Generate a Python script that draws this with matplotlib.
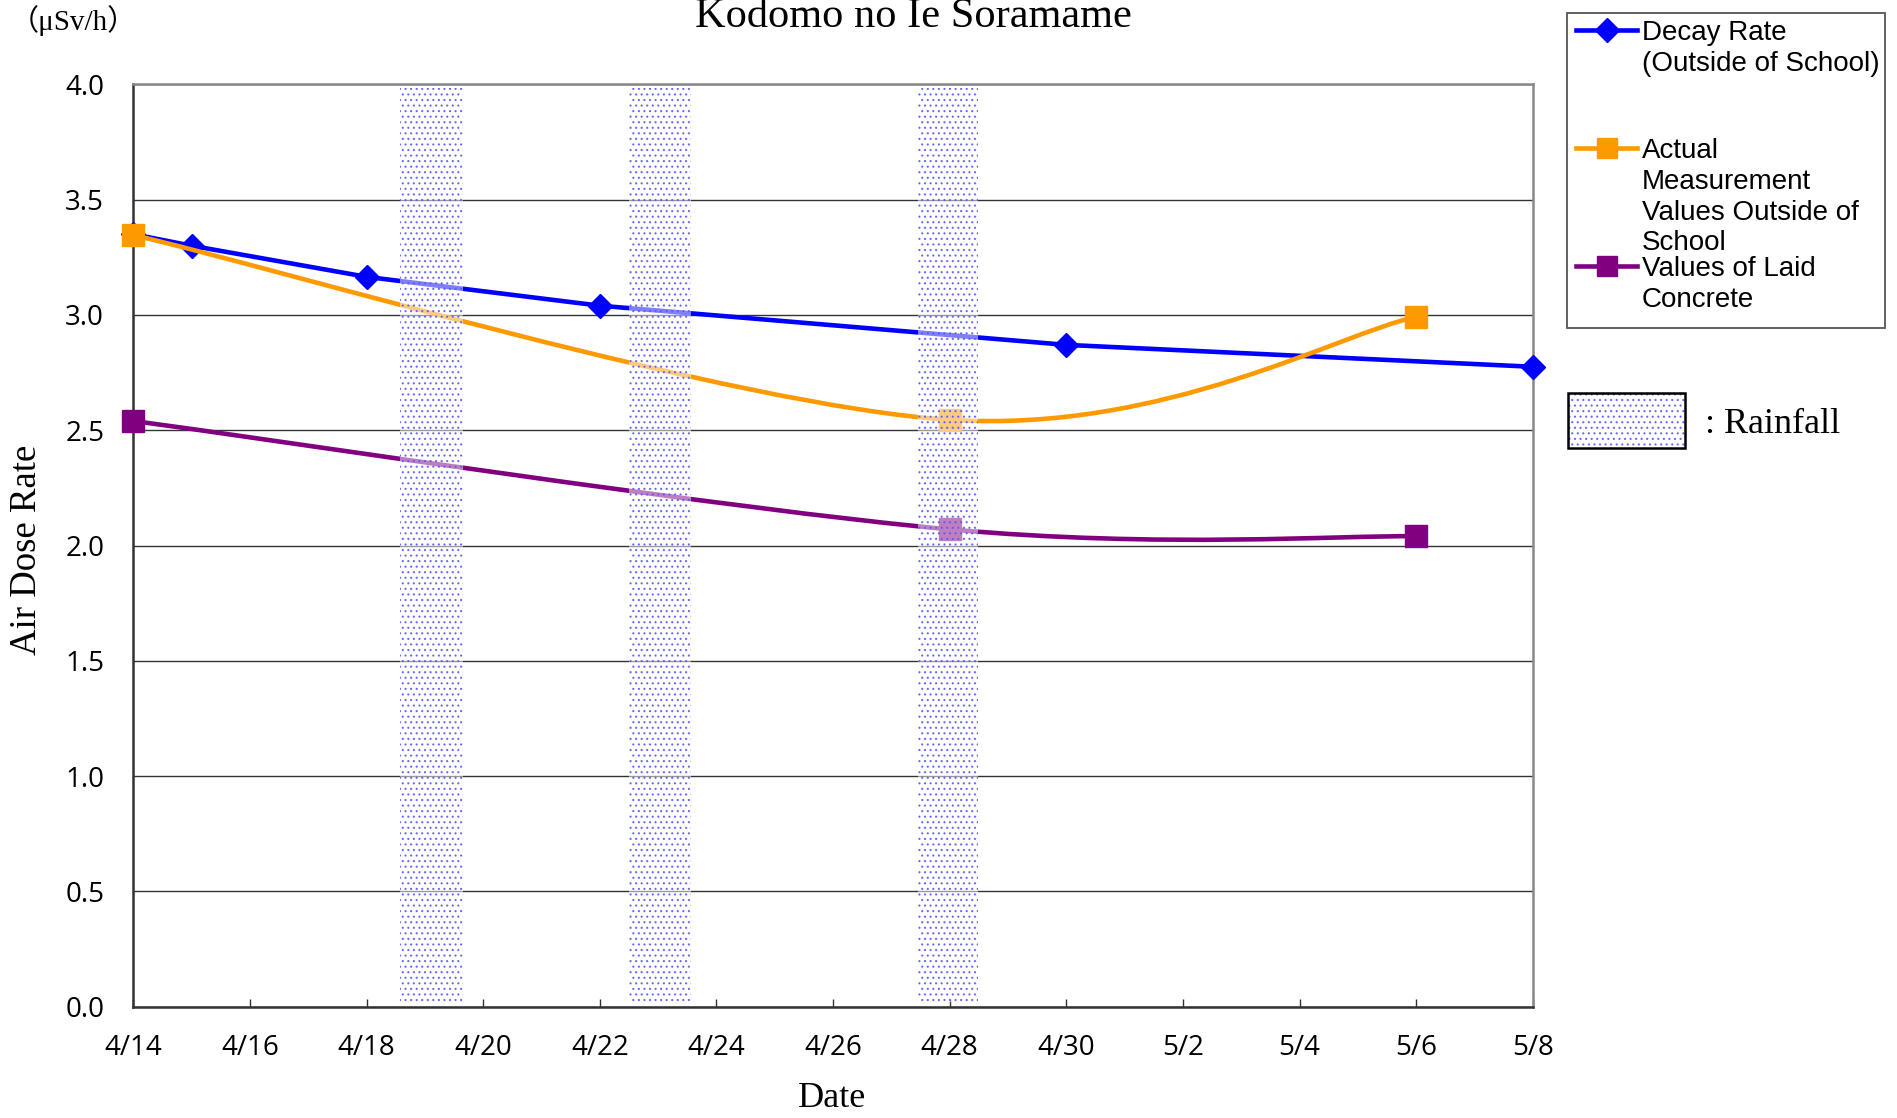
import datetime as dt
import numpy as np
import matplotlib
matplotlib.use("Agg")
import matplotlib.pyplot as plt
from matplotlib.path import Path
from matplotlib.patches import PathPatch, Rectangle
from matplotlib.lines import Line2D

# data
decay_dates = ['4/14', '4/15', '4/18', '4/22', '4/30', '5/8']
decay_vals = [3.35, 3.30, 3.165, 3.04, 2.87, 2.775]

actual_dates = ['4/14', '4/28', '5/6']
actual_vals = [3.346, 2.545, 2.992]

concrete_dates = ['4/14', '4/28', '5/6']
concrete_vals = [2.54, 2.07, 2.04]

# rainfall periods, in days from 4/14
rain_start = [4.58, 8.50, 13.45]
rain_end = [5.66, 9.56, 14.48]

xtick_labels = ['4/14', '4/16', '4/18', '4/20', '4/22', '4/24', '4/26',
                '4/28', '4/30', '5/2', '5/4', '5/6', '5/8']

START = dt.date(2011, 4, 14)


def day(s):
    m, d = map(int, s.split('/'))
    return (dt.date(2011, m, d) - START).days


def smooth_path(x, y):
    # excel-like smoothed line: cubic bezier segments through the points
    pts = np.column_stack([x, y]).astype(float)
    n = len(pts)
    verts = [pts[0]]
    codes = [Path.MOVETO]
    for i in range(n - 1):
        p0 = pts[max(i - 1, 0)]
        p1 = pts[i]
        p2 = pts[i + 1]
        p3 = pts[min(i + 2, n - 1)]
        verts += [p1 + (p2 - p0) / 6, p2 - (p3 - p1) / 6, p2]
        codes += [Path.CURVE4] * 3
    return Path(verts, codes)


W, H = 1897, 1118


def fx(px):
    return px / W


def fy(py):
    return 1 - py / H


plt.rcParams['hatch.linewidth'] = 0.8

fig = plt.figure(figsize=(W / 100, H / 100), dpi=100)
ax = fig.add_axes([fx(133.3), fy(1006.7), fx(1532.8) - fx(133.3), fy(84.3) - fy(1006.7)])

BLUE = '#0000ff'
ORANGE = '#ff9900'
PURPLE = '#800080'

xd = [day(s) for s in decay_dates]
ax.plot(xd, decay_vals, color=BLUE, lw=3.3, marker='D', ms=12, mew=1,
        clip_on=False, zorder=3)

xa = [day(s) for s in actual_dates]
ax.add_patch(PathPatch(smooth_path(xa, actual_vals), fill=False,
                       edgecolor=ORANGE, lw=3.3, zorder=3.1, capstyle='round'))
ax.plot(xa, actual_vals, ls='none', marker='s', ms=15.5, mew=1, color=ORANGE,
        clip_on=False, zorder=3.1)

xc = [day(s) for s in concrete_dates]
ax.add_patch(PathPatch(smooth_path(xc, concrete_vals), fill=False,
                       edgecolor=PURPLE, lw=3.3, zorder=3.2, capstyle='round'))
ax.plot(xc, concrete_vals, ls='none', marker='s', ms=15.5, mew=1, color=PURPLE,
        clip_on=False, zorder=3.2)

for a, b in zip(rain_start, rain_end):
    ax.axvspan(a, b, ymin=0.005, ymax=0.996, facecolor=(1, 1, 1, 0.5),
               edgecolor=(0.35, 0.35, 1.0, 0.85), hatch='...', lw=0, zorder=5)

ax.set_xlim(0, 24)
ax.set_ylim(0, 4.0)
ax.set_xticks([day(s) for s in xtick_labels])
ax.set_xticklabels(xtick_labels, family='Open Sans', fontsize=20)
ax.set_yticks(np.arange(0, 4.01, 0.5))
ax.set_yticklabels(['%.1f' % v for v in np.arange(0, 4.01, 0.5)],
                   family='Open Sans', fontsize=20)
ax.tick_params(axis='x', direction='in', length=6, width=1, color='#333333', pad=20)
ax.tick_params(axis='y', length=0, pad=21)
ax.yaxis.grid(True, color='#333333', lw=1)
ax.set_axisbelow(True)

for side in ['left', 'bottom']:
    ax.spines[side].set_color('#333333')
    ax.spines[side].set_linewidth(1.8)
for side in ['top', 'right']:
    ax.spines[side].set_color('#888888')
    ax.spines[side].set_linewidth(1.8)

serif = ['Liberation Serif', 'Noto Sans CJK JP']
fig.text(fx(913), fy(27), 'Kodomo no Ie Soramame', ha='center', va='baseline',
         fontsize=30.5, family=serif)
fig.text(fx(10), fy(30), '（μSv/h）', ha='left', va='baseline', fontsize=21,
         family=serif)
fig.text(fx(27), fy(550), 'Air Dose Rate', rotation=90, ha='center', va='center',
         fontsize=26.5, family=serif)
fig.text(fx(832), fy(1107), 'Date', ha='center', va='baseline', fontsize=26,
         family=serif)

# legend, drawn by hand to match the original layout
fig.add_artist(Rectangle((fx(1567), fy(328)), fx(1885) - fx(1567), fy(13) - fy(328),
                         transform=fig.transFigure, fill=False,
                         edgecolor='#555555', lw=1.3))
legend_rows = [
    (BLUE, 'D', 12, 30, ['Decay Rate', '(Outside of School)']),
    (ORANGE, 's', 14, 148, ['Actual', 'Measurement', 'Values Outside of', 'School']),
    (PURPLE, 's', 14, 266, ['Values of Laid', 'Concrete']),
]
for color, marker, ms, yc, lines in legend_rows:
    fig.add_artist(Line2D([fx(1576), fx(1607), fx(1637)], [fy(yc)] * 3,
                          transform=fig.transFigure, color=color, lw=3.3,
                          marker=marker, ms=ms, markevery=[1]))
    for i, t in enumerate(lines):
        fig.text(fx(1642), fy(yc + 10.5 + i * 30.5), t, ha='left', va='baseline',
                 fontsize=20, family='Liberation Sans')

fig.add_artist(Rectangle((fx(1568), fy(448)), fx(1685) - fx(1568), fy(393) - fy(448),
                         transform=fig.transFigure, facecolor='white',
                         edgecolor=(0.35, 0.35, 1.0, 0.85), hatch='...', lw=0))
fig.add_artist(Rectangle((fx(1568), fy(448)), fx(1685) - fx(1568), fy(393) - fy(448),
                         transform=fig.transFigure, fill=False,
                         edgecolor='black', lw=1.8))
fig.text(fx(1705), fy(433), ': Rainfall', ha='left', va='baseline', fontsize=26,
         family=serif)

fig.savefig('out.png', dpi=100)
